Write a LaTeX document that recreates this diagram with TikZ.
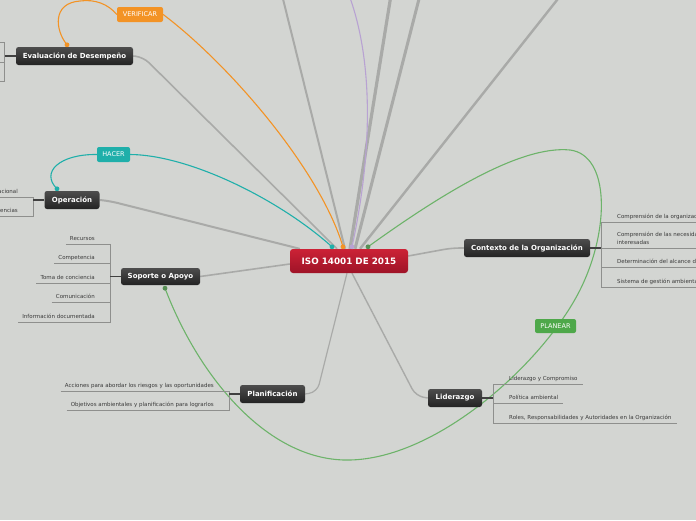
\documentclass[tikz,border=0pt]{standalone}
\usepackage{fontspec}
\setmainfont{DejaVu Sans}
\usetikzlibrary{calc}
\pgfdeclarelayer{back}
\pgfdeclarelayer{lines}
\pgfsetlayers{back,lines,main}
\definecolor{bgcol}{HTML}{D3D5D2}
\definecolor{branch}{HTML}{A9AAA8}
\definecolor{leaftxt}{HTML}{3A3A3A}
\definecolor{ulcol}{HTML}{8E8F8D}
\definecolor{orangec}{HTML}{F39325}
\definecolor{tealc}{HTML}{1FAFAA}
\definecolor{greenc}{HTML}{6DB36A}
\definecolor{greentag}{HTML}{4EA84A}
\definecolor{purplec}{HTML}{B8A2D2}
\definecolor{redtop}{HTML}{CC2236}
\definecolor{redbot}{HTML}{9E1327}
\definecolor{darktop}{HTML}{4D4D4D}
\definecolor{darkbot}{HTML}{232323}
\tikzset{
  topic/.style={rounded corners=2.5pt, top color=darktop, bottom color=darkbot, text=white,
    font=\fontsize{7}{8}\selectfont\bfseries, inner sep=0pt, minimum height=18pt},
  central/.style={rounded corners=3pt, top color=redtop, bottom color=redbot, text=white,
    font=\fontsize{8.8}{10}\selectfont\bfseries, inner sep=0pt, minimum width=118pt, minimum height=24pt},
  tagbox/.style={rounded corners=2pt, text=white, font=\fontsize{6.5}{7}\selectfont,
    inner sep=0pt, minimum height=15pt},
  leaf/.style={font=\fontsize{5.5}{8}\selectfont, text=leaftxt, inner sep=0pt},
  lleaf/.style={leaf, anchor=base east},
  rleaf/.style={leaf, anchor=base west, align=left},
  uline/.style={draw=ulcol, line width=0.9pt},
  stem/.style={draw=black!75, line width=1.3pt},
  branchline/.style={draw=branch, line width=1.6pt, rounded corners=8pt},
  relation/.style={line width=1.1pt},
}
\newcommand\ulLeft[1]{\draw[uline] ([xshift=-4pt,yshift=-4pt]#1.base west) -- ([xshift=15.5pt,yshift=-4pt]#1.base east);}
\newcommand\ulRight[1]{\draw[uline] ([xshift=-16pt,yshift=-4pt]#1.base west) -- ([xshift=5pt,yshift=-4pt]#1.base east);}
\begin{document}
\begin{tikzpicture}[x=1pt,y=-1pt]
\useasboundingbox (0,0) rectangle (696,520);
\begin{pgfonlayer}{back}
\fill[bgcol] (0,0) rectangle (696,520);
\end{pgfonlayer}

% main nodes
\node[central] (iso) at (349,261) {ISO 14001 DE 2015};
\node[topic, minimum width=117pt] (eval) at (74.5,56) {Evaluación de Desempeño};
\node[topic, minimum width=55pt] (oper) at (72,200) {Operación};
\node[topic, minimum width=79pt, minimum height=17pt] (sop) at (160.5,276.5) {Soporte o Apoyo};
\node[topic, minimum width=65pt] (plan) at (272.5,394) {Planificación};
\node[topic, minimum width=54pt] (lid) at (455,398) {Liderazgo};
\node[topic, minimum width=126pt] (ctx) at (527,248) {Contexto de la Organización};

% tags
\node[tagbox, fill=orangec, minimum width=46pt] (ver) at (140,14.5) {VERIFICAR};
\node[tagbox, fill=tealc, minimum width=33pt] (hac) at (113.5,154.5) {HACER};
\node[tagbox, fill=greentag, minimum width=41pt, minimum height=14pt] (pla) at (555.5,326) {PLANEAR};

% coordinates
\coordinate (oi) at ($(iso.north)+(-6,-2)$);
\coordinate (ti) at ($(iso.north)+(-17,-2)$);
\coordinate (pi) at ($(iso.north)+(3,-2)$);
\coordinate (gi) at ($(iso.north)+(19,-2)$);
\coordinate (oe) at ($(eval.north)+(-7.5,-2)$);
\coordinate (td) at ($(oper.north)+(-15,-2)$);
\coordinate (gs) at ($(sop.south)+(4.5,3)$);
\coordinate (t1) at (282,-5);
\coordinate (t2) at (391,-5);
\coordinate (t3) at (420,-5);
\coordinate (t4) at (561,-5);
\coordinate (tp) at (349,-5);

% leaves: Soporte
\node[lleaf] (s1) at (95,240) {Recursos};
\node[lleaf] (s2) at (95,259) {Competencia};
\node[lleaf] (s3) at (95,279) {Toma de conciencia};
\node[lleaf] (s4) at (95,298) {Comunicación};
\node[lleaf] (s5) at (95,318) {Información documentada};
% leaves: Operacion
\node[lleaf] (o1) at (18,193) {Planificación y control operacional};
\node[lleaf] (o2) at (18,212) {Preparación y respuesta ante emergencias};
% leaves: Planificacion
\node[lleaf] (p1) at (214,387) {Acciones para abordar los riesgos y las oportunidades};
\node[lleaf] (p2) at (214,406) {Objetivos ambientales y planificación para lograrlos};
% leaves: Liderazgo
\node[rleaf] (l1) at (509,380) {Liderazgo y Compromiso};
\node[rleaf] (l2) at (509,399) {Política ambiental};
\node[rleaf] (l3) at (509,419) {Roles, Responsabilidades y Autoridades en la Organización};
% leaves: Contexto
\node[rleaf] (c1) at (617,218) {Comprensión de la organización y su contexto};
\node[rleaf] (c2) at (617,244) {Comprensión de las necesidades y expectativas de las partes\\interesadas};
\node[rleaf] (c3) at (617,263) {Determinación del alcance del sistema de gestión ambiental};
\node[rleaf] (c4) at (617,283) {Sistema de gestión ambiental};

\begin{pgfonlayer}{lines}
% branches to top
\draw[branch, line width=2pt] (t1) -- ($(iso.north)+(-4,0)$);
\draw[branch, line width=3.2pt] (t2) -- ($(iso.north)+(1,0)$);
\draw[branch, line width=3pt] (t3) -- ($(iso.north)+(6,0)$);
\draw[branch, line width=2.4pt] (t4) -- ($(iso.north)+(11,0)$);
% main branches
\draw[branchline] (eval.east) -- ++(10,1) -- ($(iso.north)+(-12,0)$);
\draw[branchline, line width=2pt] (oper.east) -- ++(10,1) -- ($(iso.north west)+(10,0)$);
\draw[branchline] (sop.east) -- ($(iso.west)+(0,3)$);
\draw[branchline] (ctx.west) -- ++(-12,0) -- ($(iso.east)+(0,-5)$);
\draw[branchline, line width=1.2pt] (plan.east) -- ++(12,-2) -- ($(iso.south)+(-2,0)$);
\draw[branchline, line width=1.4pt] (lid.west) -- ++(-12,-2) -- ($(iso.south)+(3,0)$);
% relations
\draw[relation, orangec] (oe) .. controls (55,30) and (52,3) .. (80,1) .. controls (95,-1) and (108,4) .. (ver.west);
\draw[relation, orangec] (ver.east) .. controls (230,65) and (320,170) .. (oi);
\draw[relation, tealc] (td) .. controls (40,172) and (60,154) .. (hac.west);
\draw[relation, tealc] (hac.east) .. controls (190,155) and (280,200) .. (ti);
\draw[relation, purplec] (pi) .. controls (373,150) and (373,60) .. (tp);
\draw[relation, greenc] (gi) .. controls (440,195) and (520,145) .. (570,150)
  .. controls (610,155) and (610,230) .. (580,290)
  .. controls (545,360) and (440,458) .. (350,460)
  .. controls (270,462) and (200,380) .. (gs);

% brackets
\foreach \n in {s1,s2,s3,s4,s5,o1,o2,p1,p2} {\ulLeft{\n}}
\foreach \n in {l1,l2,l3} {\ulRight{\n}}
\draw[uline] ([xshift=15.5pt,yshift=-4pt]s1.base east) -- ([xshift=15.5pt,yshift=-4pt]s5.base east);
\draw[uline] ([xshift=15.5pt,yshift=-4pt]o1.base east) -- ([xshift=15.5pt,yshift=-4pt]o2.base east);
\draw[uline] ([xshift=15.5pt,yshift=-4pt]p1.base east) -- ([xshift=15.5pt,yshift=-4pt]p2.base east);
\draw[uline] ([xshift=-16pt,yshift=-4pt]l1.base west) -- ([xshift=-16pt,yshift=-4pt]l3.base west);
% contexto underlines
\draw[uline] ([xshift=-16pt,yshift=-4pt]c1.base west) -- ++(120,0);
\draw[uline] ([xshift=-16pt,yshift=-4pt]c2.base west) -- ++(120,0);
\draw[uline] ([xshift=-16pt,yshift=-4pt]c3.base west) -- ++(120,0);
\draw[uline] ([xshift=-16pt,yshift=-4pt]c4.base west) -- ++(120,0);
\draw[uline] ([xshift=-16pt,yshift=-4pt]c1.base west) -- ([xshift=-16pt,yshift=-4pt]c4.base west);
% evaluacion underlines (texts outside the picture)
\coordinate (eb) at ($(eval.west)+(-11,0)$);
\draw[uline] ($(eb)+(-10,-14)$) -- ($(eb)+(0,-14)$) -- ($(eb)+(0,25)$) -- ($(eb)+(-10,25)$);
\draw[uline] ($(eb)+(-10,6)$) -- ($(eb)+(0,6)$);
% stems
\draw[stem] (sop.west) -- ++(-11,0);
\draw[stem] (oper.west) -- ++(-11,0);
\draw[stem] (plan.west) -- ++(-11,0);
\draw[stem] (eval.west) -- (eb);
\draw[stem] (lid.east) -- ++(11,0);
\draw[stem] (ctx.east) -- ++(11,0);
\end{pgfonlayer}

% end marks
\fill[orangec] (oe) circle (2.4);
\fill[orangec] (oi) circle (2.4);
\fill[tealc] (td) circle (2.4);
\fill[tealc] (ti) circle (2.4);
\fill[purplec] (pi) circle (2.4);
\fill[greenc!80!black] (gi) circle (2.4);
\fill[greenc!80!black] (gs) circle (2.4);
\end{tikzpicture}
\end{document}
